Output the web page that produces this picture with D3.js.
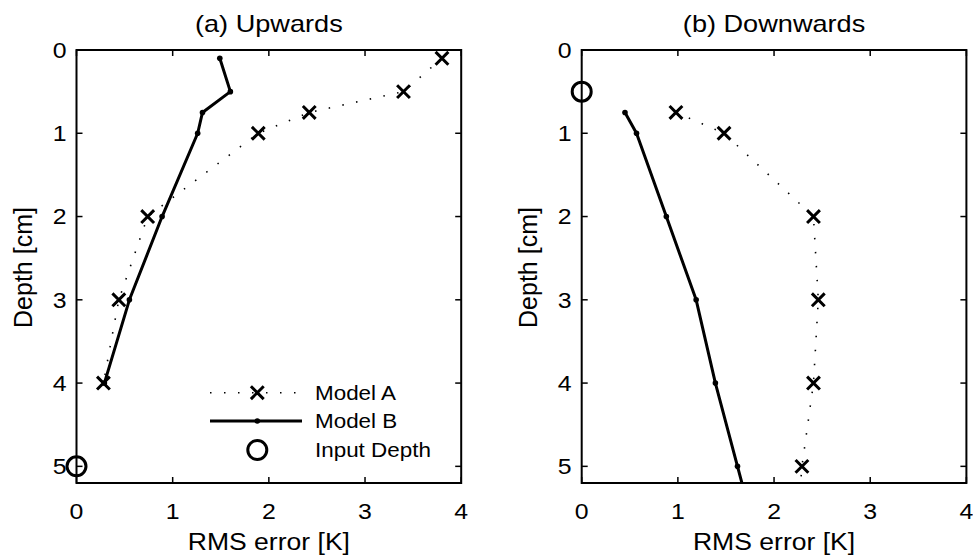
<!DOCTYPE html>
<html>
<head>
<meta charset="utf-8">
<script src="https://cdn.jsdelivr.net/npm/d3@7"></script>
<style>
  body { margin: 0; background: #fff; }
  svg { display: block; font-family: "Liberation Sans", Arial, Helvetica, sans-serif; }
</style>
</head>
<body>
<svg id="chart" width="973" height="555"></svg>
<script>
// Depths (cm) and RMS errors (K) for each panel
const upDepths = [0.1, 0.5, 0.75, 1, 2, 3, 4];
const upModelA = [3.80, 3.40, 2.42, 1.89, 0.74, 0.44, 0.28];
const upModelB = [1.49, 1.60, 1.31, 1.26, 0.89, 0.55, 0.29];
const upInput = [{ x: 0, d: 5 }];

const downDepths = [0.75, 1, 2, 3, 4, 5, 6];
const downModelA = [0.98, 1.48, 2.41, 2.46, 2.41, 2.29, 2.22];
const downModelB = [0.45, 0.57, 0.88, 1.19, 1.39, 1.62, 1.85];
const downInput = [{ x: 0, d: 0.5 }];

const xTicks = [0, 1, 2, 3, 4];
const yTicks = [0, 1, 2, 3, 4, 5];
const legendLabels = ["Model A", "Model B", "Input Depth"];

const panels = [
  { title: "(a) Upwards", left: 76.5, depths: upDepths, a: upModelA, b: upModelB, input: upInput, legend: true },
  { title: "(b) Downwards", left: 581.7, depths: downDepths, a: downModelA, b: downModelB, input: downInput, legend: false }
];

const svg = d3.select("#chart");
const W = 384.7, yTop = 50, yBottom = 483;

// Text helper: slightly widened glyphs, anchored at (x, y)
function txt(g, x, y, str, anchor, size, sx, dy) {
  return g.append("text")
    .attr("transform", `translate(${x},${y}) scale(${sx},1)`)
    .attr("text-anchor", anchor).attr("font-size", size)
    .attr("dy", dy || 0).text(str);
}

function xMark(g, cx, cy, s) {
  g.append("path")
    .attr("d", `M${cx - s},${cy - s}L${cx + s},${cy + s}M${cx - s},${cy + s}L${cx + s},${cy - s}`)
    .attr("stroke", "#000").attr("stroke-width", 3).attr("fill", "none");
}

panels.forEach((p, i) => {
  const x = d3.scaleLinear().domain([0, 4]).range([p.left, p.left + W]);
  const y = d3.scaleLinear().domain([0, 5.2]).range([yTop, yBottom]);
  const g = svg.append("g");

  const clipId = "clip" + i;
  svg.append("clipPath").attr("id", clipId).append("rect")
    .attr("x", x(0) - 12).attr("y", y(0) - 12)
    .attr("width", W + 24).attr("height", yBottom - yTop + 12);

  // Ticks on all four sides, pointing inward
  const tickLen = 6;
  xTicks.forEach(t => {
    g.append("line").attr("x1", x(t)).attr("x2", x(t)).attr("y1", yBottom).attr("y2", yBottom - tickLen)
      .attr("stroke", "#000").attr("stroke-width", 1.5);
    g.append("line").attr("x1", x(t)).attr("x2", x(t)).attr("y1", yTop).attr("y2", yTop + tickLen)
      .attr("stroke", "#000").attr("stroke-width", 1.5);
    txt(g, x(t), 519, t, "middle", 22, 1.13);
  });
  yTicks.forEach(t => {
    g.append("line").attr("x1", x(0)).attr("x2", x(0) + tickLen).attr("y1", y(t)).attr("y2", y(t))
      .attr("stroke", "#000").attr("stroke-width", 1.5);
    g.append("line").attr("x1", x(4)).attr("x2", x(4) - tickLen).attr("y1", y(t)).attr("y2", y(t))
      .attr("stroke", "#000").attr("stroke-width", 1.5);
    txt(g, x(0) - 10, y(t), t, "end", 22, 1.13, "0.36em");
  });

  // Data layer, clipped to the axes box
  const data = g.append("g").attr("clip-path", `url(#${clipId})`);
  const inner = data.append("g");
  const ptsA = p.depths.map((d, k) => [x(p.a[k]), y(d)]);
  const ptsB = p.depths.map((d, k) => [x(p.b[k]), y(d)]);
  const line = d3.line();

  const boxClip = "box" + i;
  svg.append("clipPath").attr("id", boxClip).append("rect")
    .attr("x", x(0)).attr("y", y(0)).attr("width", W).attr("height", yBottom - yTop);

  const lines = data.append("g").attr("clip-path", `url(#${boxClip})`);
  lines.append("path").attr("d", line(ptsA)).attr("fill", "none").attr("stroke", "#000")
    .attr("stroke-width", 1.6).attr("stroke-dasharray", "1.5,12.5");
  lines.append("path").attr("d", line(ptsB)).attr("fill", "none").attr("stroke", "#000")
    .attr("stroke-width", 3).attr("stroke-linejoin", "round");
  ptsB.forEach(pt => lines.append("circle").attr("cx", pt[0]).attr("cy", pt[1]).attr("r", 2.8).attr("fill", "#000"));

  ptsA.forEach(pt => { if (pt[1] <= yBottom) xMark(inner, pt[0], pt[1], 6.4); });

  p.input.forEach(c => {
    data.append("circle").attr("cx", x(c.x)).attr("cy", y(c.d)).attr("r", 9.5)
      .attr("fill", "none").attr("stroke", "#000").attr("stroke-width", 3);
  });

  // Axes frame
  g.append("rect").attr("x", x(0)).attr("y", yTop).attr("width", W).attr("height", yBottom - yTop)
    .attr("fill", "none").attr("stroke", "#000").attr("stroke-width", 2);

  // Titles and axis labels
  txt(g, x(2), 32, p.title, "middle", 23, 1.18);
  txt(g, x(2), 550, "RMS error [K]", "middle", 23.5, 1.13);
  g.append("text").attr("transform", `translate(${x(0) - 45},${(yTop + yBottom) / 2 + 1}) rotate(-90)`)
    .attr("text-anchor", "middle").attr("font-size", 25).text("Depth [cm]");

  if (p.legend) {
    const lx0 = 210, lx1 = 302, lxm = 257.3, tx = 315;
    const rows = [392.7, 421, 450];
    g.append("line").attr("x1", lx0).attr("x2", lx1).attr("y1", rows[0]).attr("y2", rows[0])
      .attr("stroke", "#000").attr("stroke-width", 1.6).attr("stroke-dasharray", "1.5,12.5");
    xMark(g, lxm, rows[0], 6.4);
    g.append("line").attr("x1", lx0).attr("x2", lx1).attr("y1", rows[1]).attr("y2", rows[1])
      .attr("stroke", "#000").attr("stroke-width", 3);
    g.append("circle").attr("cx", lxm).attr("cy", rows[1]).attr("r", 2.8).attr("fill", "#000");
    g.append("circle").attr("cx", lxm).attr("cy", rows[2]).attr("r", 9.5)
      .attr("fill", "none").attr("stroke", "#000").attr("stroke-width", 3);
    legendLabels.forEach((t, k) => txt(g, tx, rows[k], t, "start", 19.5, 1.15, "0.36em"));
  }
});
</script>
</body>
</html>
